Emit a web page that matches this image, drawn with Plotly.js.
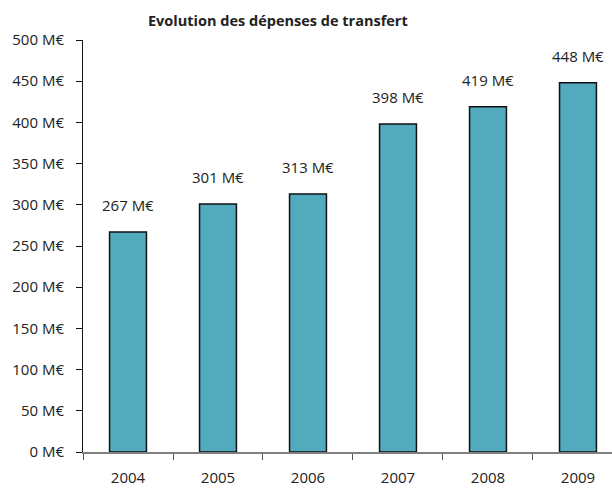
<!DOCTYPE html>
<html>
<head>
<meta charset="utf-8">
<script src="https://cdn.plot.ly/plotly-3.0.1.min.js"></script>
<style>
  body { margin: 0; background: #fff; }
  #chart { width: 612px; height: 488px; }
</style>
</head>
<body>
<div id="chart"></div>
<script>
  // transfer spending per year, in M€
  var years = ['2004', '2005', '2006', '2007', '2008', '2009'];
  var spending = [267, 301, 313, 398, 419, 448];
  var yTicks = [0, 50, 100, 150, 200, 250, 300, 350, 400, 450, 500];

  var font = 'Open Sans, DejaVu Sans, sans-serif';

  var data = [{
    type: 'bar',
    x: years,
    y: spending,
    width: 0.41,
    marker: {
      color: '#52abbd',
      line: { color: '#111', width: 1.5 }
    },
    hoverinfo: 'x+y'
  }];

  // value labels above the bars (x given as category index)
  var labels = [];
  for (var i = 0; i < years.length; i++) {
    labels.push({
      x: i,
      y: spending[i],
      xref: 'x',
      yref: 'y',
      text: spending[i] + ' M€',
      showarrow: false,
      yanchor: 'bottom',
      yshift: 15,
      font: { family: font, size: 15, color: '#222' }
    });
  }

  var layout = {
    width: 612,
    height: 488,
    margin: { l: 83, r: 0, t: 40, b: 36 },
    paper_bgcolor: '#fff',
    plot_bgcolor: '#fff',
    showlegend: false,
    font: { family: font, size: 15, color: '#222' },
    title: {
      text: '<b>Evolution des dépenses de transfert</b>',
      font: { family: font, size: 14.5, color: '#222' },
      xref: 'container',
      x: 0.454,
      xanchor: 'center',
      yref: 'container',
      y: 0.958,
      yanchor: 'middle'
    },
    xaxis: {
      type: 'category',
      range: [-0.5, 5.378],
      showgrid: false,
      zeroline: false,
      showline: true,
      linecolor: '#808080',
      linewidth: 1.5,
      ticks: 'outside',
      tickson: 'boundaries',
      ticklen: 6,
      tickcolor: '#555',
      ticklabelstandoff: 11,
      fixedrange: true
    },
    yaxis: {
      range: [0, 500],
      tickvals: yTicks,
      ticktext: yTicks.map(function (v) { return v + ' M€'; }),
      showgrid: false,
      zeroline: false,
      showline: true,
      linecolor: '#111',
      linewidth: 1,
      ticks: 'outside',
      ticklen: 6,
      tickcolor: '#111',
      ticklabelstandoff: 9,
      fixedrange: true
    },
    annotations: labels
  };

  Plotly.newPlot('chart', data, layout, { displayModeBar: false, staticPlot: true });
</script>
</body>
</html>
